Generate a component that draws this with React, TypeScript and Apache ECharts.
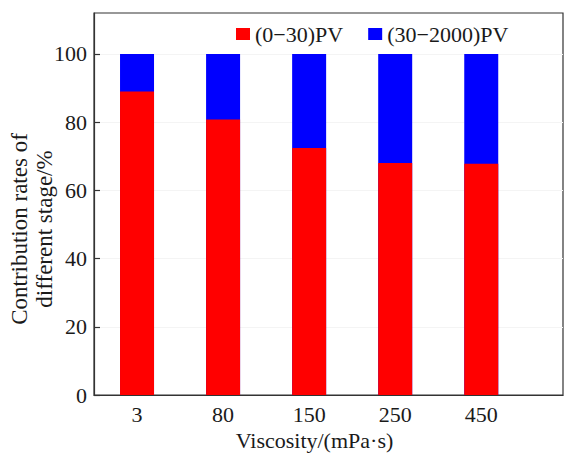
import React, { useEffect, useRef } from "react";
import * as echarts from "echarts";

const categories = ["3", "80", "150", "250", "450"];
const stage1Values = [89, 80.8, 72.4, 68, 67.8];
const stage2Values = [11, 19.2, 27.6, 32, 32.2];
const seriesNames = ["(0\u221230)PV", "(30\u22122000)PV"];
const yTicks = [0, 20, 40, 60, 80, 100];

const FONT = "Liberation Serif";

export default function App() {
  const ref = useRef<HTMLDivElement>(null);
  useEffect(() => {
    if (!ref.current) return;
    const chart = echarts.init(ref.current, null, { renderer: "svg" });
    const positions = categories.map((_, i) => i + 1);
    chart.setOption({
      animation: false,
      backgroundColor: "#ffffff",
      grid: {
        left: 94,
        top: 13,
        right: 1,
        bottom: 58,
        show: true,
        borderColor: "#333",
        borderWidth: 1.2,
        containLabel: false,
        outerBoundsMode: "none",
      },
      legend: {
        left: 231,
        top: 18,
        itemWidth: 14,
        itemHeight: 12,
        itemGap: 25,
        icon: "rect",
        textStyle: { fontFamily: FONT, fontSize: 22, color: "#1a1a1a" },
        data: seriesNames,
      },
      xAxis: {
        type: "value",
        min: 0.5,
        max: 5.95,
        axisLine: { show: true, onZero: false, lineStyle: { color: "#333", width: 1.2 } },
        axisTick: { show: false },
        splitLine: { show: false },
        axisLabel: {
          customValues: positions,
          formatter: (v: number) => categories[Math.round(v) - 1] ?? "",
          fontFamily: FONT,
          fontSize: 22,
          color: "#1a1a1a",
          margin: 8,
        },
        name: "Viscosity/(mPa\u00b7s)",
        nameLocation: "middle",
        nameGap: 33,
        nameTextStyle: {
          fontFamily: FONT,
          fontSize: 22,
          color: "#1a1a1a",
          padding: [0, 28, 0, 0],
        },
      },
      yAxis: {
        type: "value",
        min: 0,
        max: 112,
        axisLine: { show: true, lineStyle: { color: "#333", width: 1.2 } },
        axisTick: {
          show: true,
          inside: true,
          length: 6,
          customValues: yTicks,
          lineStyle: { color: "#333", width: 1.2 },
        },
        splitLine: { show: true, lineStyle: { color: "#f4f4f4", width: 1 } },
        axisLabel: {
          customValues: yTicks,
          fontFamily: FONT,
          fontSize: 22,
          color: "#1a1a1a",
          margin: 7,
        },
      },
      graphic: [
        {
          type: "text",
          x: 32,
          y: 229,
          rotation: Math.PI / 2,
          style: {
            text: "Contribution rates of\ndifferent stage/%",
            fontFamily: FONT,
            fontSize: 23,
            fill: "#1a1a1a",
            align: "center",
            verticalAlign: "middle",
            lineHeight: 25,
          },
        },
      ],
      series: [
        {
          name: seriesNames[1],
          type: "bar",
          barWidth: 34,
          barGap: "-100%",
          z: 1,
          itemStyle: { color: "#0000ff" },
          data: stage2Values.map((v, i) => [positions[i], stage1Values[i] + v]),
        },
        {
          name: seriesNames[0],
          type: "bar",
          barWidth: 34,
          barGap: "-100%",
          z: 2,
          itemStyle: { color: "#ff0000" },
          data: stage1Values.map((v, i) => [positions[i], v]),
        },
      ],
    });
    return () => chart.dispose();
  }, []);
  return <div ref={ref} style={{ width: 564, height: 453, position: "absolute", left: 0, top: 0 }} />;
}
